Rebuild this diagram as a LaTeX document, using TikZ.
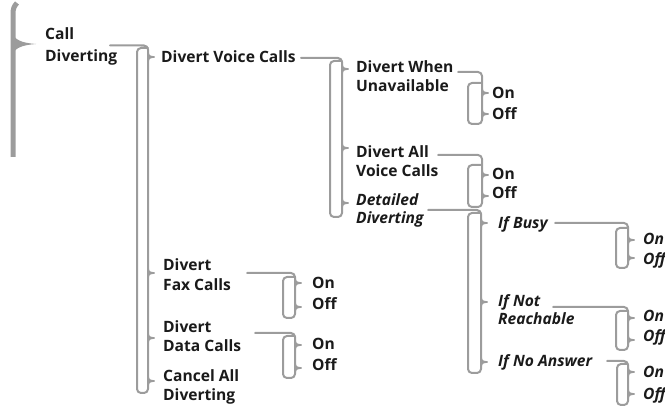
\documentclass[tikz,border=0pt]{standalone}
\usepackage{fontspec}
\setmainfont{Open Sans}
\usetikzlibrary{calc}
\definecolor{ln}{HTML}{9C9C9C}
\definecolor{tx}{HTML}{1A1A1A}
\tikzset{
  lbl/.style={anchor=base west, inner sep=0pt, text=tx, font=\fontsize{15.6}{18}\selectfont\bfseries},
  ilbl/.style={lbl, font=\fontsize{15.6}{18}\selectfont\bfseries\itshape},
  conn/.style={draw=ln, line width=2pt, rounded corners=4pt, line cap=round},
  tipline/.style={draw=ln, line width=1.7pt},
}
% #1 start x, #2 y of horizontal, #3 left edge x, #4 right edge x, #5 top y, #6 bottom y, #7 tip ys
\newcommand\brgroup[7]{%
  \draw[conn] (#1,#2) -- (#4,#2) -- (#4,#6) -- (#3,#6) -- (#3,#5) -- (#4,#5);
  \foreach \t in {#7} {%
    \draw[tipline] (#4,\t-5) .. controls (#4,\t-1) and (#4+2,\t) .. (#4+6.5,\t)
      .. controls (#4+2,\t) and (#4,\t+1) .. (#4,\t+5);
  }%
}
\begin{document}
\begin{tikzpicture}[x=1pt,y=-1pt]
\useasboundingbox (0,0) rectangle (665,406);
% big left brace
\draw[ln, line width=5pt] (13,157) -- (13,14) .. controls (13,9) and (14,6) .. (17,3);
\fill[ln] (11,30) .. controls (13,40) and (22,43) .. (36,44)
  .. controls (22,45) and (13,48) .. (11,58) -- cycle;

% labels
\node[lbl] (call1) at (45,39.5) {Call};
\node[lbl] (call2) at (45,62) {Diverting};
\node[lbl] (dvc) at (161,63) {Divert Voice Calls};
\node[lbl] (dw1) at (356,73) {Divert When};
\node[lbl] (dw2) at (356,92) {Unavailable};
\node[lbl] (on1) at (492,99) {On};
\node[lbl] (off1) at (492,120) {Off};
\node[lbl] (da1) at (356,158) {Divert All};
\node[lbl] (da2) at (356,177) {Voice Calls};
\node[lbl] (on2) at (492,180) {On};
\node[lbl] (off2) at (492,199) {Off};
\node[ilbl] (dd1) at (356,206) {Detailed};
\node[ilbl] (dd2) at (356,224) {Diverting};
\node[ilbl] (ib) at (498,229) {If Busy};
\node[ilbl] (on3) at (643,245) {On};
\node[ilbl] (off3) at (643,265) {Off};
\node[ilbl] (inr1) at (498,307) {If Not};
\node[ilbl] (inr2) at (498,325) {Reachable};
\node[ilbl] (on4) at (643,322) {On};
\node[ilbl] (off4) at (643,342) {Off};
\node[ilbl] (ina) at (498,367) {If No Answer};
\node[ilbl] (on5) at (643,378) {On};
\node[ilbl] (off5) at (643,400) {Off};
\node[lbl] (df1) at (163,271) {Divert};
\node[lbl] (df2) at (163,291) {Fax Calls};
\node[lbl] (on6) at (312,289) {On};
\node[lbl] (off6) at (312,310) {Off};
\node[lbl] (dt1) at (163,333) {Divert};
\node[lbl] (dt2) at (163,352) {Data Calls};
\node[lbl] (on7) at (312,350) {On};
\node[lbl] (off7) at (312,371) {Off};
\node[lbl] (ca1) at (163,382) {Cancel All};
\node[lbl] (ca2) at (163,401) {Diverting};

% bracket groups
\brgroup{110}{45.5}{137}{148}{48}{393}{57,273,338,381}
\brgroup{301}{58}{330}{342}{61}{217}{69,148,203}
\brgroup{458}{72}{468}{482}{83}{124}{93,114}
\brgroup{438}{155}{468}{482}{165}{207}{175,196}
\brgroup{428}{210}{468}{481}{213}{373}{223,302,362}
\brgroup{555}{223}{616}{628}{228}{268}{240,258}
\brgroup{553}{307}{616}{628}{311}{350}{318,340}
\brgroup{607}{361}{617}{628}{364}{405}{372,394}
\brgroup{247}{273}{283}{295}{277}{318}{283,307}
\brgroup{255}{333}{283}{295}{336}{378}{345,368}
\end{tikzpicture}
\end{document}
